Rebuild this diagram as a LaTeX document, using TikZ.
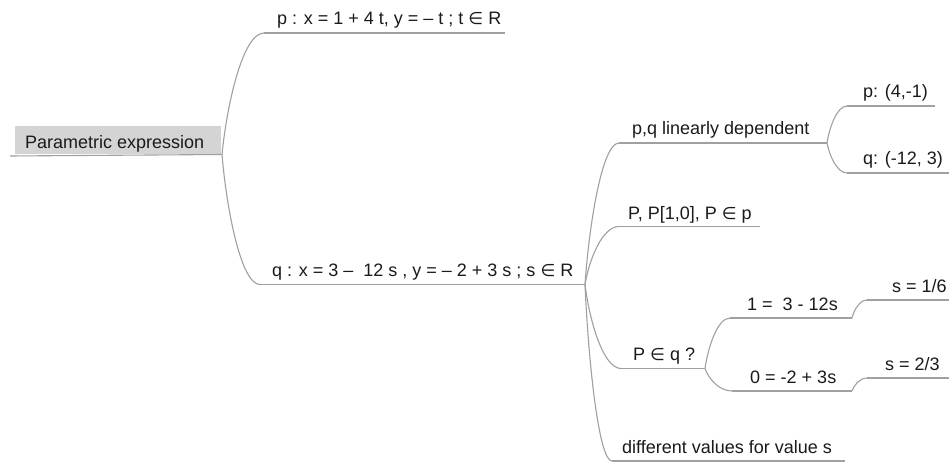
\documentclass[tikz,border=0pt]{standalone}
\usepackage{fontspec}
\setmainfont{Liberation Sans}
\newfontfamily\dejavu{DejaVu Sans}
\usetikzlibrary{calc}
\newcommand\elm{{\dejavu\fontsize{17}{20}\selectfont ∈}}
\definecolor{linegray}{HTML}{A0A0A0}
\definecolor{boxgray}{HTML}{D4D4D4}
\definecolor{txt}{HTML}{1A1A1A}
\tikzset{
  lbl/.style={anchor=base west, inner sep=0pt, text=txt, font=\fontsize{18}{21.6}\selectfont},
  uline/.style={draw=linegray, line width=1.1pt},
  br/.style={draw=linegray, line width=1.1pt,
    to path={let \p1=(\tikztostart), \p2=(\tikztotarget) in
      .. controls (\x1+0.12*\x2-0.12*\x1, \y1+0.42*\y2-0.42*\y1) and (\x1+0.5*\x2-0.5*\x1, \y2) .. (\tikztotarget)}}
}
\begin{document}
\begin{tikzpicture}[x=1pt,y=-1pt]
\useasboundingbox[fill=white] (0,0) rectangle (949,462);
% root
\fill[boxgray] (15,126) rectangle (221,154);
\node[lbl] (root) at (25,148.5) {Parametric expression};
\coordinate (root-l) at (10,156);
\coordinate (root-r) at (222,154.5);
\draw[uline] (root-l) -- (root-r);
% p
\node[lbl] (p) at (277,25) {p : x = 1 + 4 t, y = – t ; t \elm{} R};
\coordinate (p-l) at (264,33); \coordinate (p-r) at (505,33);
% q
\node[lbl] (q) at (272,276) {q : x = 3 –\ \ 12 s , y = – 2 + 3 s ; s \elm{} R};
\coordinate (q-l) at (260,284.5); \coordinate (q-r) at (585,284.5);
% pq
\node[lbl] (pq) at (632,135) {p,q linearly dependent};
\coordinate (pq-l) at (619,143); \coordinate (pq-r) at (827,143);
\node[lbl] (p41) at (863,98) {p: (4,-1)};
\coordinate (p41-l) at (847,106); \coordinate (p41-r) at (935,106);
\node[lbl] (q123) at (863,165) {q: (-12, 3)};
\coordinate (q123-l) at (847,173); \coordinate (q123-r) at (949,173);
% PP
\node[lbl] (PP) at (628,219) {P, P[1,0], P \elm{} p};
\coordinate (PP-l) at (619,226.5); \coordinate (PP-r) at (760,226.5);
% Pq
\node[lbl] (Pq) at (633,360) {P \elm{} q ?};
\coordinate (Pq-l) at (621,368.5); \coordinate (Pq-r) at (705,368.5);
\node[lbl] (e1) at (747,310) {1 =\ \ 3 - 12s};
\coordinate (e1-l) at (730,318); \coordinate (e1-r) at (852,318);
\node[lbl] (e2) at (750,383) {0 = -2 + 3s};
\coordinate (e2-l) at (732,391); \coordinate (e2-r) at (852,391);
\node[lbl] (s16) at (892,292) {s = 1/6};
\coordinate (s16-l) at (867,300); \coordinate (s16-r) at (949,300);
\node[lbl] (s23) at (885,370) {s = 2/3};
\coordinate (s23-l) at (867,378); \coordinate (s23-r) at (949,378);
% diff
\node[lbl] (diff) at (622,453) {different values for value s};
\coordinate (diff-l) at (612,461); \coordinate (diff-r) at (845,461);
% underlines
\foreach \n in {p,q,pq,p41,q123,PP,Pq,e1,e2,s16,s23,diff}
  \draw[uline] (\n-l) -- (\n-r);
% branches
\path[br] (root-r) to (p-l);
\path[br] (root-r) to (q-l);
\path[br] (q-r) to (pq-l);
\path[br] (q-r) to (PP-l);
\path[br] (q-r) to (Pq-l);
\path[br] (q-r) to (diff-l);
\path[br] (pq-r) to (p41-l);
\path[br] (pq-r) to (q123-l);
\path[br] (Pq-r) to (e1-l);
\path[br] (Pq-r) to (e2-l);
\path[br] (e1-r) to (s16-l);
\path[br] (e2-r) to (s23-l);
\end{tikzpicture}
\end{document}
